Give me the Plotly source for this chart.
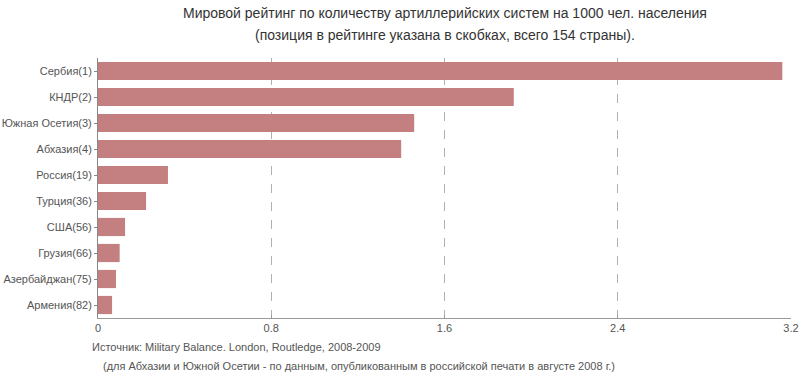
import plotly.graph_objects as go

countries = ["Сербия(1)", "КНДР(2)", "Южная Осетия(3)", "Абхазия(4)", "Россия(19)",
             "Турция(36)", "США(56)", "Грузия(66)", "Азербайджан(75)", "Армения(82)"]
values = [3.16, 1.92, 1.46, 1.40, 0.323, 0.222, 0.125, 0.10, 0.083, 0.065]
x_ticks = [0, 0.8, 1.6, 2.4, 3.2]
x_tick_labels = ["0", "0.8", "1.6", "2.4", "3.2"]

FONT = "Liberation Sans, Arial, sans-serif"

fig = go.Figure(go.Bar(
    y=countries, x=values, orientation="h",
    marker=dict(color="#c48080", line=dict(width=0)),
    hoverinfo="x+y",
))

fig.update_layout(
    width=800, height=375,
    margin=dict(l=98, r=9, t=58, b=57, autoexpand=False),
    paper_bgcolor="white", plot_bgcolor="white",
    bargap=0.3,
    showlegend=False,
    font=dict(family=FONT, size=11, color="#555555"),
    xaxis=dict(
        range=[0, 3.2], tickvals=x_ticks, ticktext=x_tick_labels,
        showgrid=True, gridcolor="#b0b0b0", griddash="dash", gridwidth=1,
        zeroline=False, showline=True, linecolor="#999999", linewidth=1,
        ticks="inside", ticklen=3, tickcolor="#999999",
        tickfont=dict(size=11, color="#555555"),
        automargin=False, fixedrange=True,
    ),
    yaxis=dict(
        categoryorder="array", categoryarray=countries[::-1],
        showgrid=False, zeroline=False, showline=True, linecolor="#888888", linewidth=1,
        ticks="outside", ticklen=3, tickcolor="#888888",
        tickfont=dict(size=11, color="#555555"),
        automargin=False, fixedrange=True,
    ),
    annotations=[
        dict(text="Мировой рейтинг по количеству артиллерийских систем на 1000 чел. населения",
             xref="paper", yref="paper", x=0.5, y=1, yshift=45, showarrow=False,
             xanchor="center", yanchor="middle", font=dict(size=14, color="#333333")),
        dict(text="(позиция в рейтинге указана в скобках, всего 154 страны).",
             xref="paper", yref="paper", x=0.5, y=1, yshift=23, showarrow=False,
             xanchor="center", yanchor="middle", font=dict(size=14, color="#333333")),
        dict(text="Источник: Military Balance. London, Routledge, 2008-2009",
             xref="paper", yref="paper", x=0, y=0, xshift=-8, yshift=-29, showarrow=False,
             xanchor="left", yanchor="middle", font=dict(size=11, color="#555555")),
        dict(text="(для Абхазии и Южной Осетии - по данным, опубликованным в российской печати в августе 2008 г.)",
             xref="paper", yref="paper", x=0, y=0, xshift=3, yshift=-48, showarrow=False,
             xanchor="left", yanchor="middle", font=dict(size=11, color="#555555")),
    ],
)

fig.write_html("out.html", config={"displayModeBar": False},
               post_script="document.body.style.margin='0';document.body.style.overflow='hidden';")
